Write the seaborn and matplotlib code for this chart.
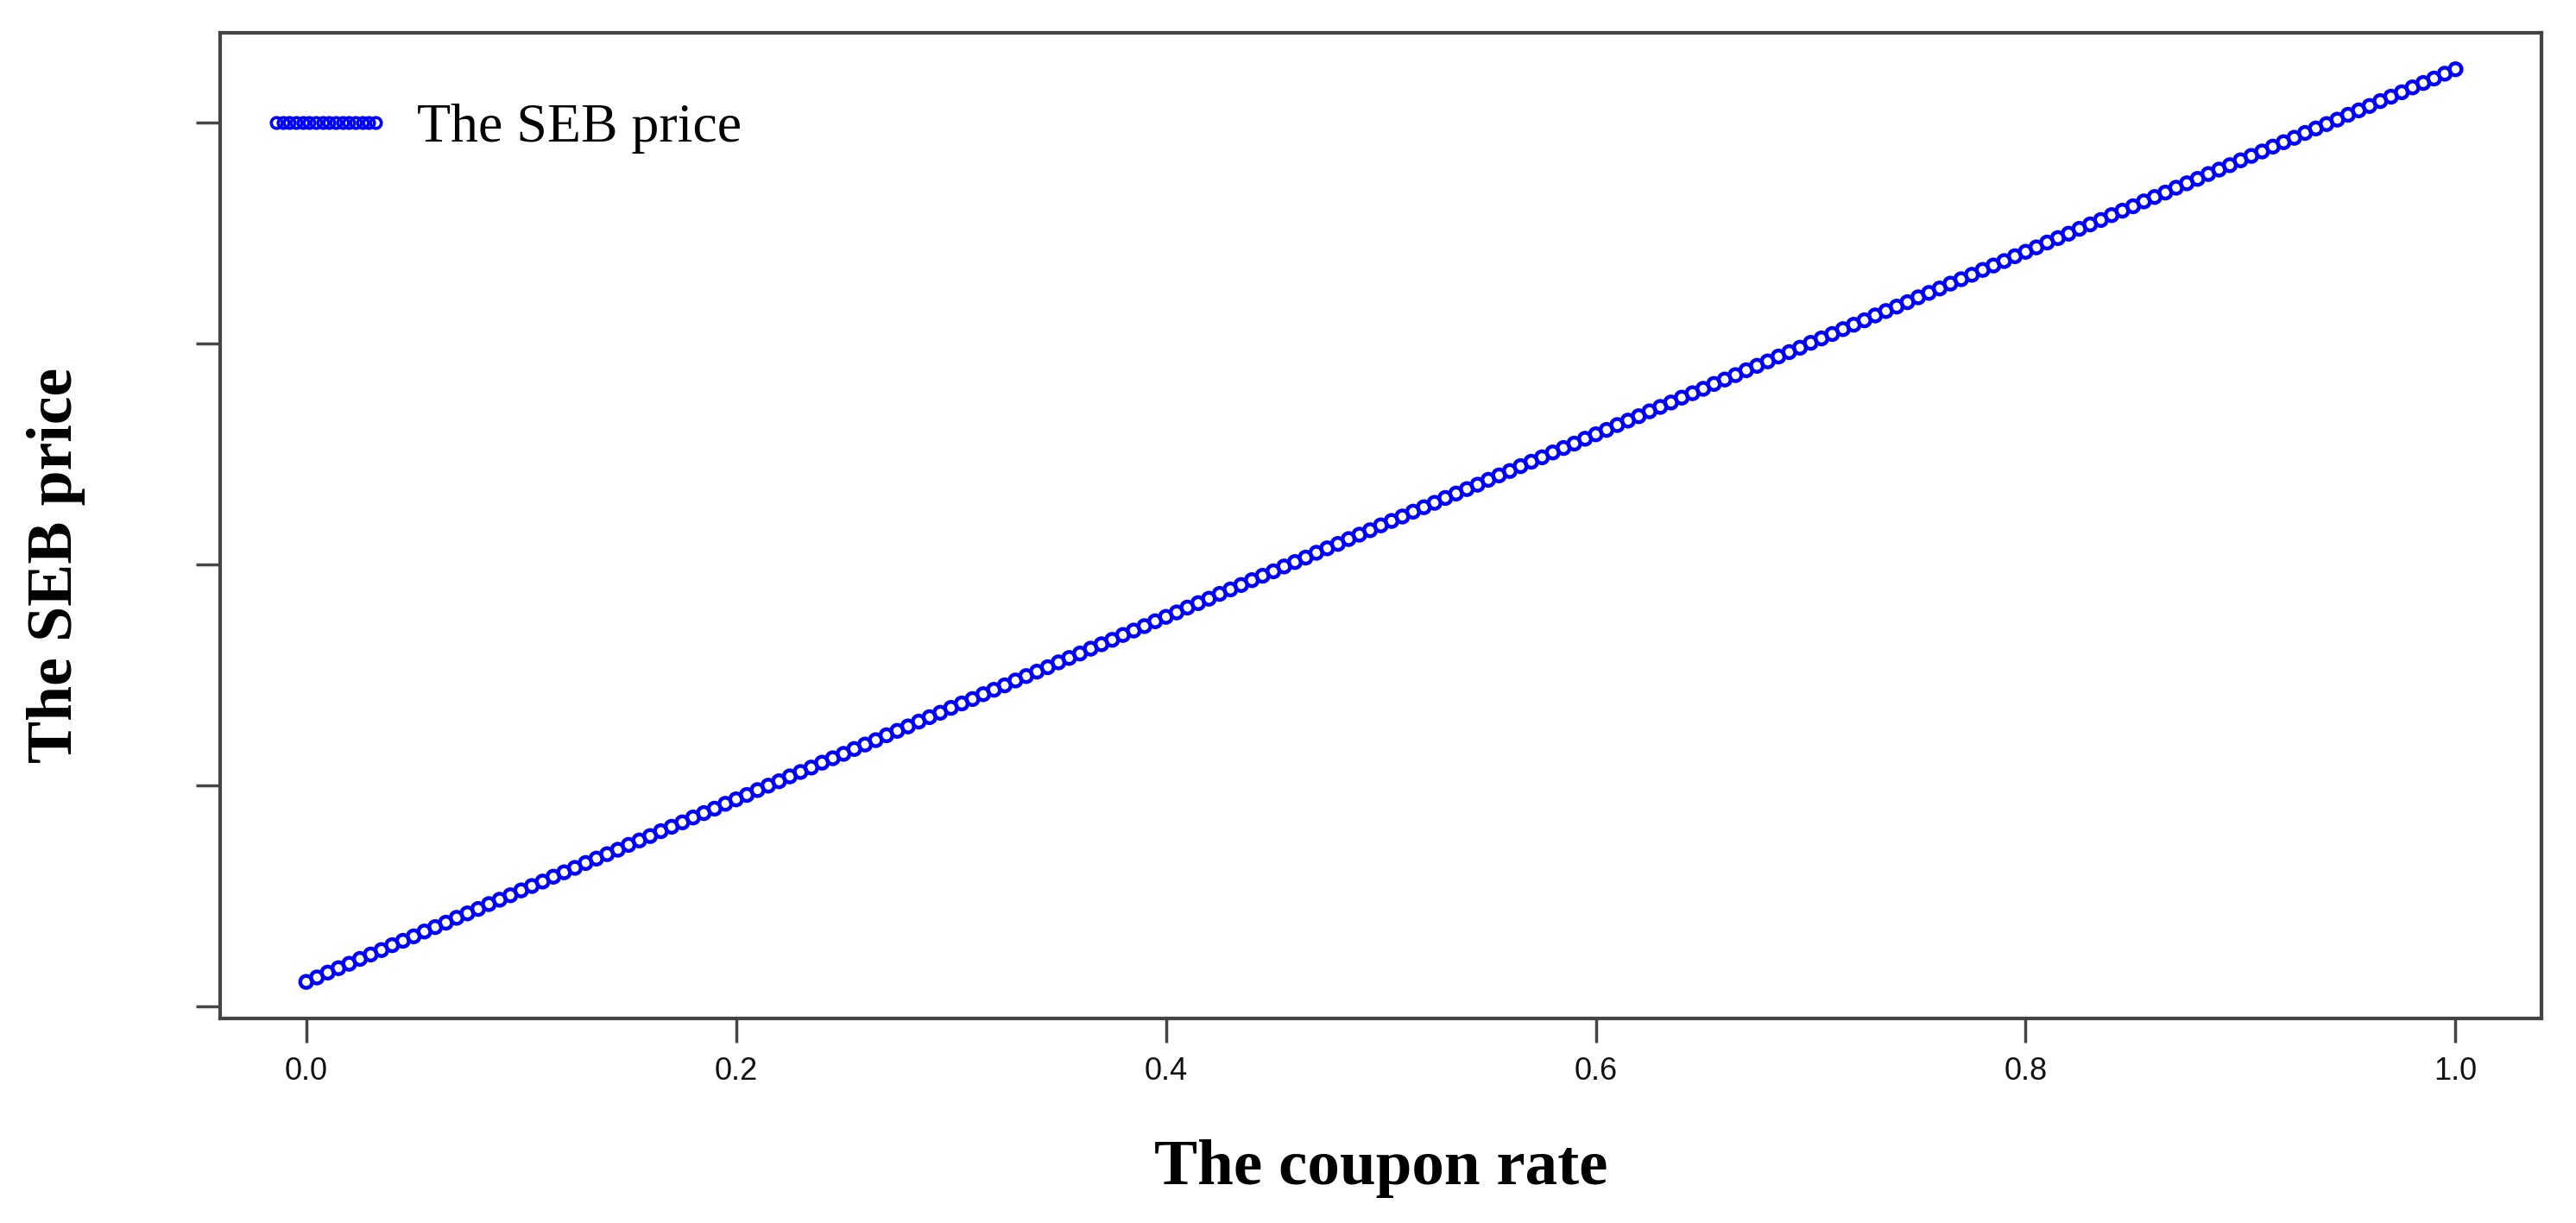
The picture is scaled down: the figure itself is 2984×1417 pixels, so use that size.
import matplotlib
matplotlib.use("Agg")
import matplotlib.pyplot as plt
from matplotlib.lines import Line2D
import seaborn as sns

# coupon rate (x), every 0.005
coupon_rate = [
    0.000, 0.005, 0.010, 0.015, 0.020, 0.025, 0.030, 0.035, 0.040, 0.045,
    0.050, 0.055, 0.060, 0.065, 0.070, 0.075, 0.080, 0.085, 0.090, 0.095,
    0.100, 0.105, 0.110, 0.115, 0.120, 0.125, 0.130, 0.135, 0.140, 0.145,
    0.150, 0.155, 0.160, 0.165, 0.170, 0.175, 0.180, 0.185, 0.190, 0.195,
    0.200, 0.205, 0.210, 0.215, 0.220, 0.225, 0.230, 0.235, 0.240, 0.245,
    0.250, 0.255, 0.260, 0.265, 0.270, 0.275, 0.280, 0.285, 0.290, 0.295,
    0.300, 0.305, 0.310, 0.315, 0.320, 0.325, 0.330, 0.335, 0.340, 0.345,
    0.350, 0.355, 0.360, 0.365, 0.370, 0.375, 0.380, 0.385, 0.390, 0.395,
    0.400, 0.405, 0.410, 0.415, 0.420, 0.425, 0.430, 0.435, 0.440, 0.445,
    0.450, 0.455, 0.460, 0.465, 0.470, 0.475, 0.480, 0.485, 0.490, 0.495,
    0.500, 0.505, 0.510, 0.515, 0.520, 0.525, 0.530, 0.535, 0.540, 0.545,
    0.550, 0.555, 0.560, 0.565, 0.570, 0.575, 0.580, 0.585, 0.590, 0.595,
    0.600, 0.605, 0.610, 0.615, 0.620, 0.625, 0.630, 0.635, 0.640, 0.645,
    0.650, 0.655, 0.660, 0.665, 0.670, 0.675, 0.680, 0.685, 0.690, 0.695,
    0.700, 0.705, 0.710, 0.715, 0.720, 0.725, 0.730, 0.735, 0.740, 0.745,
    0.750, 0.755, 0.760, 0.765, 0.770, 0.775, 0.780, 0.785, 0.790, 0.795,
    0.800, 0.805, 0.810, 0.815, 0.820, 0.825, 0.830, 0.835, 0.840, 0.845,
    0.850, 0.855, 0.860, 0.865, 0.870, 0.875, 0.880, 0.885, 0.890, 0.895,
    0.900, 0.905, 0.910, 0.915, 0.920, 0.925, 0.930, 0.935, 0.940, 0.945,
    0.950, 0.955, 0.960, 0.965, 0.970, 0.975, 0.980, 0.985, 0.990, 0.995,
    1.000,
]

# SEB price (y), unlabeled axis, estimated in arbitrary units
seb_price = [
    105.5, 106.5, 107.6, 108.6, 109.6, 110.7, 111.7, 112.7, 113.8, 114.8,
    115.8, 116.9, 117.9, 118.9, 120.0, 121.0, 122.0, 123.1, 124.1, 125.1,
    126.2, 127.2, 128.2, 129.3, 130.3, 131.3, 132.4, 133.4, 134.4, 135.4,
    136.5, 137.5, 138.5, 139.6, 140.6, 141.6, 142.7, 143.7, 144.7, 145.8,
    146.8, 147.8, 148.9, 149.9, 150.9, 152.0, 153.0, 154.0, 155.1, 156.1,
    157.1, 158.2, 159.2, 160.2, 161.3, 162.3, 163.3, 164.4, 165.4, 166.4,
    167.5, 168.5, 169.5, 170.6, 171.6, 172.6, 173.7, 174.7, 175.7, 176.7,
    177.8, 178.8, 179.8, 180.9, 181.9, 182.9, 184.0, 185.0, 186.0, 187.1,
    188.1, 189.1, 190.2, 191.2, 192.2, 193.3, 194.3, 195.3, 196.4, 197.4,
    198.4, 199.5, 200.5, 201.5, 202.6, 203.6, 204.6, 205.7, 206.7, 207.7,
    208.8, 209.8, 210.8, 211.9, 212.9, 213.9, 215.0, 216.0, 217.0, 218.0,
    219.1, 220.1, 221.1, 222.2, 223.2, 224.2, 225.3, 226.3, 227.3, 228.4,
    229.4, 230.4, 231.5, 232.5, 233.5, 234.6, 235.6, 236.6, 237.7, 238.7,
    239.7, 240.8, 241.8, 242.8, 243.9, 244.9, 245.9, 247.0, 248.0, 249.0,
    250.1, 251.1, 252.1, 253.2, 254.2, 255.2, 256.3, 257.3, 258.3, 259.3,
    260.4, 261.4, 262.4, 263.5, 264.5, 265.5, 266.6, 267.6, 268.6, 269.7,
    270.7, 271.7, 272.8, 273.8, 274.8, 275.9, 276.9, 277.9, 279.0, 280.0,
    281.0, 282.1, 283.1, 284.1, 285.2, 286.2, 287.2, 288.3, 289.3, 290.3,
    291.4, 292.4, 293.4, 294.5, 295.5, 296.5, 297.6, 298.6, 299.6, 300.6,
    301.7, 302.7, 303.7, 304.8, 305.8, 306.8, 307.9, 308.9, 309.9, 311.0,
    312.0,
]

x_ticks = [0.0, 0.2, 0.4, 0.6, 0.8, 1.0]
x_tick_labels = ["0.0", "0.2", "0.4", "0.6", "0.8", "1.0"]
y_ticks = [100, 150, 200, 250, 300]

sns.set_style("white")
serif = ["Liberation Serif", "DejaVu Serif"]
sans = ["Liberation Sans", "DejaVu Sans"]

fig = plt.figure(figsize=(29.84, 14.17), dpi=100)
ax = fig.add_axes([0.0855, 0.1673, 0.9011, 0.8059])

sns.scatterplot(x=coupon_rate, y=seb_price, ax=ax, marker="o", s=100,
                facecolor="none", edgecolor="#0000ff", linewidth=3.2)

ax.set_xlim(-0.04, 1.04)
ax.set_ylim(97.24, 320.26)
ax.set_xticks(x_ticks)
ax.set_xticklabels(x_tick_labels, family=sans, fontsize=26, color="#111111")
ax.set_yticks(y_ticks)
ax.set_yticklabels([])
ax.tick_params(axis="both", length=20, width=2.5, color="#444444", pad=12,
               direction="out", bottom=True, left=True)

for sp in ax.spines.values():
    sp.set_color("#444444")
    sp.set_linewidth(3)

ax.set_xlabel("The coupon rate", family=serif, fontsize=54, fontweight="bold",
              color="black", labelpad=44)
ax.set_ylabel("The SEB price", family=serif, fontsize=53, fontweight="bold",
              color="black")
ax.yaxis.set_label_coords(-0.058, 0.46)

handle = Line2D([], [], linestyle="none", marker="o", markersize=9,
                markerfacecolor="none", markeredgecolor="#0000ff",
                markeredgewidth=2.6)
leg = ax.legend([handle], ["The SEB price"], loc="center left",
                bbox_to_anchor=(0.017, 0.903), frameon=False, numpoints=16,
                handlelength=2.4, handletextpad=0.45, borderpad=0,
                borderaxespad=0, prop={"family": serif, "size": 46})
for t in leg.get_texts():
    t.set_color("black")

fig.savefig("out.png", dpi=100)
